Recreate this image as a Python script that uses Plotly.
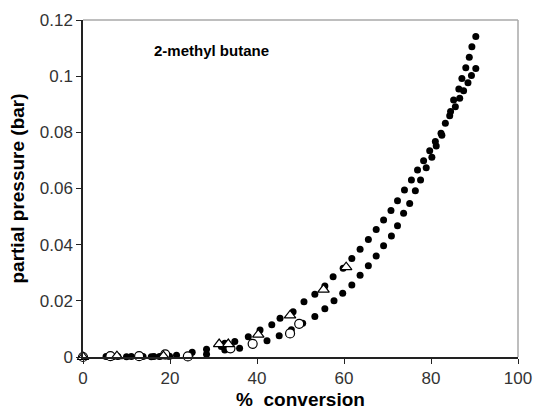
import plotly.graph_objects as go

# filled dots, upper branch
upper_x = [0, 5.3, 8.0, 11.1, 13.8, 16.3, 19.6, 21.5, 25.1, 28.4,
           31.8, 32.6, 34.9, 38.0, 40.7, 43.4, 45.3, 48.3, 50.8, 53.3,
           55.6, 57.5, 59.8, 61.8, 63.7, 65.6, 67.4, 69.1, 70.8, 72.3,
           73.9, 75.5, 76.9, 78.3, 79.7, 81.0, 82.3, 83.3, 84.5, 85.2,
           86.4, 87.1, 88.0, 88.8, 89.4, 90.3]
upper_y = [0, 0.0002, 0.0002, 0.0002, 0.0002, 0.0002, 0.0004, 0.0006, 0.0017, 0.0028,
           0.0037, 0.0049, 0.0055, 0.0072, 0.0096, 0.0115, 0.0138, 0.0161, 0.0197, 0.0223,
           0.0253, 0.0286, 0.0316, 0.0351, 0.0384, 0.0418, 0.0454, 0.0488, 0.0522, 0.0556,
           0.0595, 0.0630, 0.0666, 0.0699, 0.0734, 0.0767, 0.0797, 0.0832, 0.0874, 0.0915,
           0.0954, 0.0992, 0.1030, 0.1067, 0.1105, 0.1141]

# filled dots, lower branch
lower_x = [6.8, 10.0, 15.7, 17.6, 19.9, 24.6, 28.4, 32.6, 36.0, 39.0,
           42.3, 45.1, 47.9, 50.5, 53.3, 55.6, 57.7, 59.7, 61.8, 63.7,
           65.6, 67.4, 69.1, 70.9, 72.3, 73.7, 75.1, 76.4, 77.6, 78.9,
           80.2, 81.2, 82.5, 84.3, 85.6, 86.6, 87.5, 88.5, 89.3, 90.3]
lower_y = [0.0001, 0.0001, 0.0001, 0.0002, 0.0003, 0.0006, 0.0010, 0.0025, 0.0031, 0.0044,
           0.0058, 0.0076, 0.0097, 0.0120, 0.0144, 0.0172, 0.0200, 0.0227, 0.0256, 0.0291,
           0.0325, 0.0360, 0.0396, 0.0431, 0.0467, 0.0512, 0.0547, 0.0592, 0.0630, 0.0674,
           0.0711, 0.0751, 0.0790, 0.0859, 0.0891, 0.0921, 0.0948, 0.0977, 0.1002, 0.1027]

# open triangles
tri_x = [0, 7.8, 18.5, 31.3, 33.4, 40.3, 47.6, 55.3, 60.5]
tri_y = [0, 0.0003, 0.0003, 0.0046, 0.0046, 0.0080, 0.0148, 0.0240, 0.0320]

# open circles
circ_x = [0, 6.3, 12.9, 18.9, 24.1, 33.9, 39.0, 47.6, 49.7]
circ_y = [0, 0.0003, 0.0003, 0.0009, 0.0002, 0.0031, 0.0047, 0.0084, 0.0118]

x_ticks = [0, 20, 40, 60, 80, 100]
y_ticks = [0, 0.02, 0.04, 0.06, 0.08, 0.1, 0.12]
y_tick_text = ["0", "0.02", "0.04", "0.06", "0.08", "0.1", "0.12"]

FONT = "Liberation Sans, Arial, sans-serif"

fig = go.Figure()

for xs, ys in [(upper_x, upper_y), (lower_x, lower_y)]:
    fig.add_trace(go.Scatter(
        x=xs, y=ys, mode="markers", cliponaxis=False,
        marker=dict(symbol="circle", size=7, color="black"),
    ))

fig.add_trace(go.Scatter(
    x=circ_x, y=circ_y, mode="markers", cliponaxis=False,
    marker=dict(symbol="circle", size=9, color="white",
                line=dict(color="black", width=1.2)),
))
fig.add_trace(go.Scatter(
    x=tri_x, y=tri_y, mode="markers", cliponaxis=False,
    marker=dict(symbol="triangle-up", size=10, color="white",
                line=dict(color="black", width=1.2)),
))

# grey frame on top and right
frame = dict(type="line", xref="paper", yref="paper",
             line=dict(color="#a8a8a8", width=1.5))
shapes = [dict(frame, x0=0, y0=1, x1=1, y1=1),
          dict(frame, x0=1, y0=0, x1=1, y1=1)]

fig.update_layout(
    width=533, height=412,
    showlegend=False,
    plot_bgcolor="white",
    paper_bgcolor="white",
    margin=dict(l=83, r=15, t=20, b=55),
    font=dict(family=FONT, color="#333", size=17),
    shapes=shapes,
    xaxis=dict(
        range=[0, 100], tickvals=x_ticks, automargin=False,
        showline=True, linecolor="#222", linewidth=1.5,
        ticks="outside", ticklen=5, tickcolor="#222",
        showgrid=False, zeroline=False,
        title=dict(text="<b>%  conversion</b>", font=dict(size=19, color="black"), standoff=6),
    ),
    yaxis=dict(
        range=[0, 0.12], tickvals=y_ticks, ticktext=y_tick_text, automargin=False,
        showline=True, linecolor="#222", linewidth=1.5,
        ticks="outside", ticklen=5, tickcolor="#222",
        showgrid=False, zeroline=False,
        title=dict(text="<b>partial pressure (bar)</b>", font=dict(size=19, color="black"), standoff=10),
    ),
    annotations=[dict(
        x=15.9, y=0.1093, xref="x", yref="y", xanchor="left", showarrow=False,
        text="<b>2-methyl butane</b>", font=dict(size=15, color="black"),
    )],
)

# drop the browser's default body margin so the figure sits at the page corner
fig.write_html("out.html", config={"displayModeBar": False},
               post_script="document.body.style.margin = '0';")
